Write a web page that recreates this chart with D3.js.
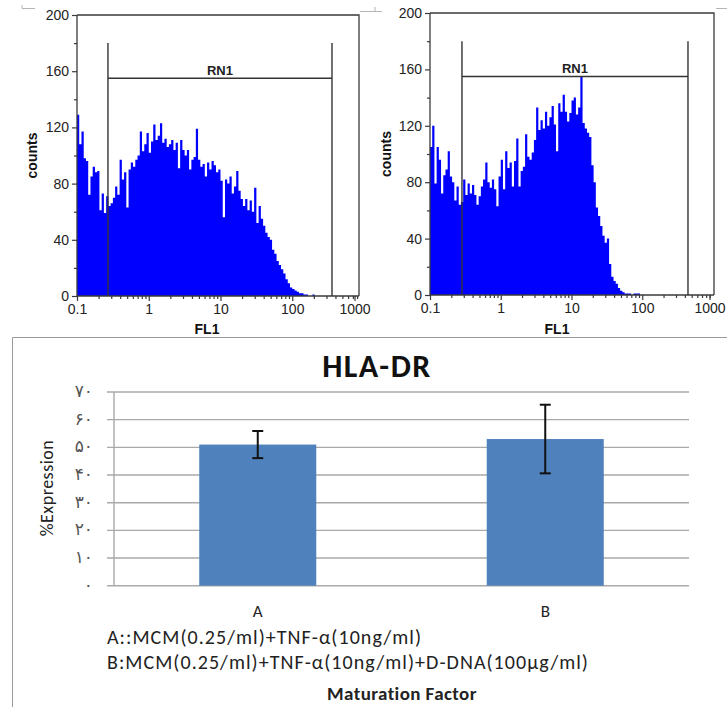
<!DOCTYPE html>
<html><head><meta charset="utf-8">
<script src="https://cdn.jsdelivr.net/npm/d3@7"></script>
<style>body{margin:0;background:#fff}svg{display:block}</style>
</head><body><svg id="c" width="727" height="707"></svg>
<script>
// ---------------- DATA ----------------
// Flow cytometry histograms (counts per log channel, 32 channels per decade starting at FL1 = 0.1)
const fl1Min = 0.1;
const binsPerDecade = 32;
const leftCounts = [129,108,117,98,96,72,85,92,88,89,
  61,73,59,71,64,66,70,78,72,97,
  83,88,63,90,95,92,97,100,117,103,
  108,116,102,110,122,111,114,123,109,112,
  106,108,111,104,109,91,111,104,100,104,
  90,97,99,119,97,92,94,85,95,90,
  96,93,88,90,82,56,83,80,85,73,
  78,89,75,69,64,69,61,68,60,77,
  52,64,55,50,45,42,40,33,30,25,
  22,19,16,12,9,6,5,4,3,2,
  2,1,1,0,0,1,0];
const rightCounts = [105,120,79,105,96,72,85,89,102,84,
  80,67,77,64,66,82,71,79,72,78,
  71,64,70,77,82,94,80,76,82,75,
  63,84,96,75,102,90,94,77,95,111,
  77,88,91,114,98,96,101,110,133,117,
  124,118,130,120,126,134,121,102,136,130,
  142,130,123,129,138,140,128,133,155,122,
  118,115,112,92,80,62,56,49,42,37,
  40,22,13,10,8,5,3,2,1,1,
  1,0,1,1,1,0];
const countTicks = [0,40,80,120,160,200];
const countMinorTicks = [20,60,100,140,180];
const fl1Ticks = [0.1,1,10,100,1000];
const fl1TickLabels = ["0.1","1","10","100","1000"];
const gateName = "RN1";
const leftGate = [0.27, 358];
const rightGate = [0.283, 443];
const gateLevel = 155, gateTop = 180;

// Bar chart
const barCats = ["A","B"];
const barValues = [51, 53];
const barErrors = [4.9, 12.4];
const pctTicks = [0,10,20,30,40,50,60,70];
const pctTickLabels = ["۰","۱۰","۲۰","۳۰","۴۰","۵۰","۶۰","۷۰"];
const barTitle = "HLA-DR";
const footnotes = ["A::MCM(0.25/ml)+TNF-α(10ng/ml)", "B:MCM(0.25/ml)+TNF-α(10ng/ml)+D-DNA(100μg/ml)"];

// ---------------- DRAW ----------------
const svg = d3.select("#c");
svg.append("rect").attr("width",727).attr("height",707).attr("fill","#fff");
const defs = svg.append("defs");
defs.append("clipPath").attr("id","clipL").append("rect").attr("x",0).attr("y",0).attr("width",371).attr("height",336);
defs.append("clipPath").attr("id","clipR").append("rect").attr("x",371).attr("y",0).attr("width",356).attr("height",336);
const fontH = "Liberation Sans, Arial, sans-serif";

function histogram(counts, gate, p) {
  const g = svg.append("g").attr("clip-path", `url(#${p.clip})`);
  const x = d3.scaleLog().domain([0.1,1000]).range([p.x0, p.x1]);
  const y = d3.scaleLinear().domain([0,200]).range([p.yb, p.yt]);
  const pts = counts.map((c,i)=>({e: fl1Min*Math.pow(10, i/binsPerDecade), c}));
  pts.push({e: fl1Min*Math.pow(10, counts.length/binsPerDecade), c: 0});
  const area = d3.area().curve(d3.curveStepAfter).x(d=>x(d.e)).y0(y(0)).y1(d=>y(d.c));
  g.append("path").datum(pts).attr("d", area).attr("fill","#0000ff");

  // frame
  const stroke = "#3a3a3a";
  g.append("path").attr("d",`M${p.x0},${p.yt}H${p.xr}V${p.yb}`).attr("fill","none").attr("stroke",stroke).attr("stroke-width",1.3);
  g.append("line").attr("x1",p.x0).attr("x2",p.x0).attr("y1",p.yt).attr("y2",p.yb).attr("stroke",stroke).attr("stroke-width",1.3);
  g.append("line").attr("x1",p.x0).attr("x2",p.xr).attr("y1",p.yb).attr("y2",p.yb).attr("stroke",stroke).attr("stroke-width",1.3);

  // y axis
  const ya = g.append("g").attr("transform",`translate(${p.x0},0)`)
    .call(d3.axisLeft(y).tickValues(countTicks).tickSize(5).tickPadding(3).tickFormat(d3.format("d")));
  const ym = g.append("g").attr("transform",`translate(${p.x0},0)`)
    .call(d3.axisLeft(y).tickValues(countMinorTicks).tickSize(3).tickFormat(""));
  // x axis
  const minor = [];
  for (let d=-1; d<3; d++) for (let k=2;k<10;k++){ const v=k*Math.pow(10,d); if (x(v) <= p.xr) minor.push(v); }
  const xa = g.append("g").attr("transform",`translate(0,${p.yb})`)
    .call(d3.axisBottom(x).tickValues(fl1Ticks).tickSize(5).tickPadding(3).tickFormat((d,i)=>fl1TickLabels[i]));
  xa.selectAll(".tick").filter(d=>d===1000).attr("transform",`translate(${p.lastLabelX},0)`);
  const xm = g.append("g").attr("transform",`translate(0,${p.yb})`)
    .call(d3.axisBottom(x).tickValues(minor).tickSize(3).tickFormat(""));
  [ya,ym,xa,xm].forEach(a=>{
    a.select(".domain").remove();
    a.selectAll("line").attr("stroke",stroke).attr("stroke-width",1.2);
    a.selectAll("text").attr("font-family",fontH).attr("font-size",14).attr("fill","#222");
  });

  // gate
  const gx0 = x(gate[0]), gx1 = x(gate[1]);
  const gs = "#333";
  g.append("line").attr("x1",gx0).attr("x2",gx0).attr("y1",y(gateTop)).attr("y2",y(0)).attr("stroke",gs).attr("stroke-width",1.4);
  g.append("line").attr("x1",gx1).attr("x2",gx1).attr("y1",y(gateTop)).attr("y2",y(0)).attr("stroke",gs).attr("stroke-width",1.4);
  g.append("line").attr("x1",gx0).attr("x2",gx1).attr("y1",y(gateLevel)).attr("y2",y(gateLevel)).attr("stroke",gs).attr("stroke-width",1.4);
  g.append("text").attr("x",(gx0+gx1)/2).attr("y",y(gateLevel)-3).attr("text-anchor","middle")
    .attr("font-family",fontH).attr("font-weight","bold").attr("font-size",13).attr("fill","#222").text(gateName);

  // axis titles
  g.append("text").attr("transform",`translate(${p.cx},${(p.yt+p.yb)/2}) rotate(-90)`).attr("text-anchor","middle").attr("dy","0.35em")
    .attr("font-family",fontH).attr("font-weight","bold").attr("font-size",14).attr("fill","#111").text("counts");
  g.append("text").attr("x",p.fx).attr("y",334).attr("text-anchor","middle")
    .attr("font-family",fontH).attr("font-weight","bold").attr("font-size",14).attr("fill","#111").text("FL1");
}

histogram(leftCounts, leftGate, {clip:"clipL", x0:77, x1:364, xr:359, yb:296, yt:15, lastLabelX:355, cx:32, fx:207});
histogram(rightCounts, rightGate, {clip:"clipR", x0:430, x1:713, xr:714, yb:295, yt:13, lastLabelX:710, cx:386, fx:557});

// scan artifacts at top
const art = svg.append("g").attr("stroke","#b5b5b5").attr("stroke-width",1).attr("fill","none");
art.append("path").attr("d","M22,5V8.5H35");
art.append("path").attr("d","M360,11.5H382M375,7V11.5");
art.append("path").attr("d","M716,8.5H727");

// ---------------- Bar chart ----------------
const bc = svg.append("g");
bc.append("path").attr("d","M12.5,707V337.5H727").attr("fill","none").attr("stroke","#9a9a9a").attr("stroke-width",1);
const fontC = "Carlito, Lato, 'Open Sans', sans-serif";
const yB = d3.scaleLinear().domain([0,70]).range([585.7, 392]);
const xB = d3.scaleBand().domain(barCats).range([114, 689]).paddingInner(0.593).paddingOuter(0.2965);

bc.append("g").selectAll("line").data(pctTicks).join("line")
  .attr("x1",107).attr("x2",689).attr("y1",d=>yB(d)).attr("y2",d=>yB(d))
  .attr("stroke","#a9a9a9").attr("stroke-width",1.4);
bc.append("line").attr("x1",114).attr("x2",114).attr("y1",yB(70)).attr("y2",yB(0)).attr("stroke","#a9a9a9").attr("stroke-width",1.4);
bc.append("g").selectAll("text").data(pctTicks).join("text")
  .attr("x",93).attr("y",d=>yB(d)).attr("dy","0.3em").attr("text-anchor","end")
  .attr("font-family","DejaVu Sans, sans-serif").attr("font-size",17).attr("fill","#555")
  .text((d,i)=>pctTickLabels[i]);

bc.append("g").selectAll("rect").data(barCats).join("rect")
  .attr("x",d=>xB(d)).attr("width",xB.bandwidth())
  .attr("y",(d,i)=>yB(barValues[i])).attr("height",(d,i)=>yB(0)-yB(barValues[i]))
  .attr("fill","#4f81bd");

const eb = bc.append("g").attr("stroke","#111").attr("stroke-width",2);
barCats.forEach((c,i)=>{
  const cx = xB(c)+xB.bandwidth()/2;
  const t = yB(barValues[i]+barErrors[i]), b = yB(barValues[i]-barErrors[i]);
  eb.append("line").attr("x1",cx).attr("x2",cx).attr("y1",t).attr("y2",b);
  eb.append("line").attr("x1",cx-5.5).attr("x2",cx+5.5).attr("y1",t).attr("y2",t);
  eb.append("line").attr("x1",cx-5.5).attr("x2",cx+5.5).attr("y1",b).attr("y2",b);
});

bc.append("g").selectAll("text").data(barCats).join("text")
  .attr("x",d=>xB(d)+xB.bandwidth()/2).attr("y",617).attr("text-anchor","middle")
  .attr("font-family",fontC).attr("font-size",17).attr("fill","#222").text(d=>d);

bc.append("text").attr("x",377).attr("y",377).attr("text-anchor","middle")
  .attr("font-family",fontC).attr("font-weight","bold").attr("font-size",32).attr("letter-spacing",1.5).attr("fill","#111").text(barTitle);
bc.append("text").attr("transform","translate(53,488) rotate(-90)").attr("text-anchor","middle")
  .attr("font-family",fontC).attr("font-size",18).attr("letter-spacing",0.5).attr("fill","#222").text("%Expression");
bc.append("g").selectAll("text").data(footnotes).join("text")
  .attr("x",107).attr("y",(d,i)=>644+i*25)
  .attr("font-family",fontC).attr("font-size",20).attr("letter-spacing",1.05).attr("fill","#222").text(d=>d);
bc.append("text").attr("x",402).attr("y",700).attr("text-anchor","middle")
  .attr("font-family",fontC).attr("font-weight","bold").attr("font-size",19).attr("letter-spacing",0.4).attr("fill","#222").text("Maturation Factor");
</script></body></html>
